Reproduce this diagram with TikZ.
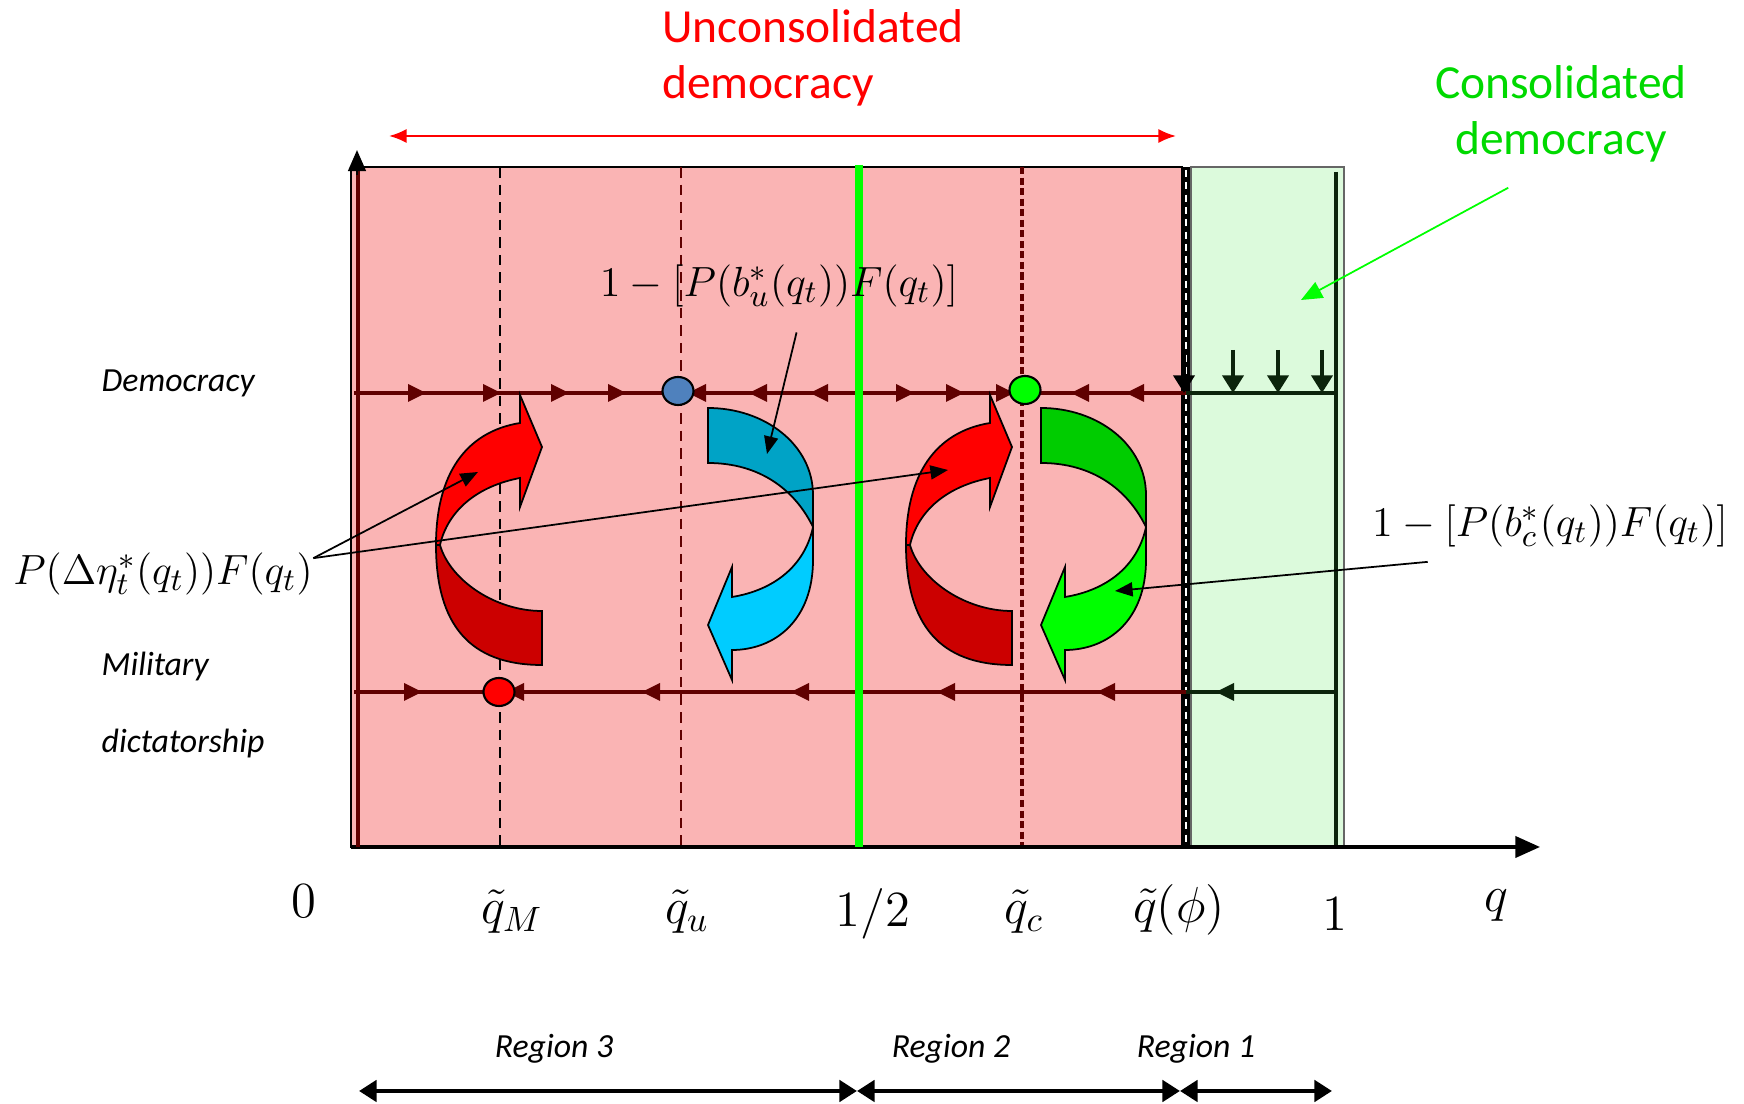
\documentclass[tikz,border=0pt]{standalone}
\usepackage{fontspec}
\newfontfamily\calibri{Carlito}
\usetikzlibrary{arrows.meta,shapes.geometric}

\definecolor{pinkbg}{RGB}{250,180,180}
\definecolor{greenbg}{RGB}{220,250,220}
\definecolor{flowred}{RGB}{96,0,0}
\definecolor{deepgreen}{RGB}{12,36,12}
\definecolor{redtop}{RGB}{255,0,0}
\definecolor{redlow}{RGB}{204,0,0}
\definecolor{bluetop}{RGB}{0,163,198}
\definecolor{bluelow}{RGB}{0,204,255}
\definecolor{greentop}{RGB}{0,204,0}
\definecolor{greenlow}{RGB}{0,255,0}
\definecolor{dotblue}{RGB}{79,129,189}

\begin{document}
\begin{tikzpicture}[x=0.01cm,y=-0.01cm,
  every node/.style={inner sep=0pt},
  flowline/.style={line width=1.1pt,draw=flowred},
  greenline/.style={line width=1pt,draw=deepgreen},
  regarrow/.style={line width=1.3pt,{Triangle[length=5pt,width=6pt]}-{Triangle[length=5pt,width=6pt]}},
  callout/.style={line width=0.5pt,-{Triangle[length=5pt,width=4pt]}},
  lbl/.style={font=\calibri\itshape\fontsize{9.6}{12}\selectfont},
  axlbl/.style={font=\fontsize{14}{16}\selectfont},
  eqlbl/.style={font=\fontsize{12.5}{15}\selectfont},
  fixdot/.style={draw,line width=0.6pt,ellipse,minimum width=0.31cm,minimum height=0.28cm},
  ribbon/.style={draw,line width=0.5pt}]

\useasboundingbox (0,0) rectangle (1744,1104);

% regions
\fill[pinkbg] (351,167) rectangle (1182,847);
\draw[black,line width=0.5pt] (351,167) rectangle (1182,847);
\fill[greenbg] (1191,167) rectangle (1344,847);
\draw[black!60,line width=0.5pt] (1191,167) rectangle (1344,847);

% guides
\draw[black,line width=0.3pt,dash pattern=on 3pt off 2pt] (500,167) -- (500,847);
\draw[flowred,line width=0.3pt,dash pattern=on 3pt off 2pt] (681,167) -- (681,847);
\draw[flowred,line width=0.9pt,dash pattern=on 2pt off 1pt] (1022,167) -- (1022,847);
\draw[black,line width=2pt] (1186,167) -- (1186,847);
\draw[white,line width=0.7pt,dash pattern=on 2pt off 1.5pt] (1186,170) -- (1186,845);
\draw[deepgreen,line width=0.9pt] (1336,172) -- (1336,847);

% axes
\coordinate (O) at (358,847);
\coordinate (xend) at (1540,847);
\coordinate (yend) at (357,150);
\draw[line width=1pt,-{Triangle[length=7pt,width=6pt]}] (351,847) -- (xend);
\draw[flowred,line width=1.4pt] (O) -- (358,170);
\draw[line width=0.8pt,-{Triangle[length=6pt,width=5pt]}] (357,175) -- (yend);

% flows
\draw[flowline] (354,393) -- (1186,393);
\draw[greenline] (1186,393) -- (1336,393);
\draw[flowline] (354,692) -- (1186,692);
\draw[greenline] (1186,692) -- (1336,692);

\foreach \x in {417,492,560,617,905,955,1005}
  \fill[flowred] (\x+9,393) -- (\x-9,384) -- (\x-9,402) -- cycle;
\foreach \x in {697,758,819,1080,1135}
  \fill[flowred] (\x-9,393) -- (\x+9,384) -- (\x+9,402) -- cycle;
\foreach \x in {413}
  \fill[flowred] (\x+9,692) -- (\x-9,683) -- (\x-9,701) -- cycle;
\foreach \x in {515,651,800,946,1106}
  \fill[flowred] (\x-9,692) -- (\x+9,683) -- (\x+9,701) -- cycle;
\fill[deepgreen] (1216,692) -- (1234,683) -- (1234,701) -- cycle;

\foreach \x in {1233,1278,1322}
  \draw[deepgreen,line width=1pt,-{Triangle[length=5pt,width=6pt]}] (\x,350) -- (\x,393);
\draw[black,line width=1pt,-{Triangle[length=5pt,width=6pt]}] (1184,355) -- (1184,393);

\draw[green,line width=2.3pt] (859,165) -- (859,847);

% fixed points
\node[fixdot,fill=dotblue] (qu) at (678,391) {};
\node[fixdot,fill=green] (qc) at (1025,390) {};
\node[fixdot,fill=red] (qM) at (499,692) {};

% turning arrows
\foreach \dx in {0,470} {
  \begin{scope}[shift={(\dx,0)}]
    \draw[ribbon,fill=redlow] (436,545) .. controls (436,625) and (470,665) .. (542,665)
      -- (542,611) .. controls (495,611) and (450,580) .. (440,545) -- cycle;
    \draw[ribbon,fill=redtop] (436,545) .. controls (436,475) and (465,432) .. (520,423)
      -- (520,395) -- (542,447) -- (520,507) -- (520,478)
      .. controls (478,486) and (448,510) .. (440,545) -- cycle;
  \end{scope}
}
\foreach \dx/\ct/\cl in {0/bluetop/bluelow,333/greentop/greenlow} {
  \begin{scope}[shift={(\dx,0)}]
    \draw[ribbon,fill=\ct] (708,408) .. controls (765,408) and (813,445) .. (813,495)
      -- (813,527) .. controls (795,490) and (760,463) .. (708,463) -- cycle;
    \draw[ribbon,fill=\cl] (813,527) -- (813,560) .. controls (813,620) and (775,650) .. (732,650)
      -- (732,680) -- (708,625) -- (732,567) -- (732,597)
      .. controls (775,590) and (805,565) .. (813,527) -- cycle;
  \end{scope}
}

% labels
\node[font=\calibri\fontsize{13.5}{16}\selectfont,text=red,align=left] (unc) at (813,58) {Unconsolidated\\democracy};
\node[font=\calibri\fontsize{13.5}{16}\selectfont,text=green!85!black,align=center] (cons) at (1561,114) {Consolidated\\democracy};
\node[lbl,anchor=west] (dem) at (101,383) {Democracy};
\node[lbl,anchor=west] (mil) at (101,667) {Military};
\node[lbl,anchor=west] (dict) at (101,744) {dictatorship};

\node[eqlbl] (peta) at (163,574) {$P(\Delta\eta_t^*(q_t))F(q_t)$};
\node[eqlbl] (bu) at (779,286) {$1-[P(b_u^*(q_t))F(q_t)]$};
\node[eqlbl] (bc) at (1550,526) {$1-[P(b_c^*(q_t))F(q_t)]$};

\node[axlbl] (lab0) at (304,901) {$0$};
\node[axlbl] (labqM) at (512,912) {$\tilde{q}_M$};
\node[axlbl] (labqu) at (687,912) {$\tilde{q}_u$};
\node[axlbl] (labhalf) at (873,914) {$1/2$};
\node[axlbl] (labqc) at (1024,912) {$\tilde{q}_c$};
\node[axlbl] (labqphi) at (1179,910) {$\tilde{q}\bigl(\phi\bigr)$};
\node[axlbl] (labone) at (1335,914) {$1$};
\node[axlbl] (labq) at (1496,906) {$q$};

\node[lbl] (reg3) at (554,1049) {Region 3};
\node[lbl] (reg2) at (951,1049) {Region 2};
\node[lbl] (reg1) at (1196,1049) {Region 1};

% callouts
\coordinate (redA) at (478,472);
\coordinate (redB) at (948,470);
\coordinate (blueA) at (767,454);
\coordinate (greenA) at (1115,591);
\coordinate (consA) at (1301,300);
\draw[callout] ([yshift=4.5pt]peta.east) -- (redA);
\draw[callout] ([yshift=4.5pt]peta.east) -- (redB);
\draw[callout] ([xshift=5pt,yshift=-7pt]bu.south) -- (blueA);
\draw[callout] ([xshift=16pt,yshift=-4pt]bc.south west) -- (greenA);
\draw[green,line width=0.5pt,-{Triangle[length=6pt,width=5pt]}] ([xshift=-15pt,yshift=-7pt]cons.south) -- (consA);

% span arrows
\coordinate (ua) at (389,136);
\coordinate (ub) at (1176,136);
\draw[red,line width=0.6pt,{Latex[length=5pt,width=4pt]}-{Latex[length=5pt,width=4pt]}] (ua) -- (ub);

\coordinate (r0) at (359,1091);
\coordinate (r1) at (857,1091);
\coordinate (r2) at (1180,1091);
\coordinate (r3) at (1332,1091);
\draw[regarrow] (r0) -- (r1);
\draw[regarrow] (r1) -- (r2);
\draw[regarrow] (r2) -- (r3);
\end{tikzpicture}
\end{document}
